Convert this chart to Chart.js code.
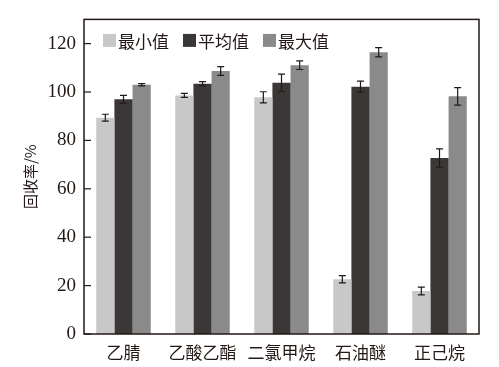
<!DOCTYPE html>
<html>
<head>
<meta charset="utf-8">
<script src="https://cdn.jsdelivr.net/npm/chart.js@4.4.1/dist/chart.umd.min.js"></script>
<style>
html,body{margin:0;padding:0;background:#fff;}
#wrap{width:499px;height:367px;position:relative;}
</style>
</head>
<body>
<div id="wrap"><canvas id="c" width="499" height="367"></canvas></div>
<script>
const categories = ["乙腈", "乙酸乙酯", "二氯甲烷", "石油醚", "正己烷"];
const seriesNames = ["最小值", "平均值", "最大值"];
const minValues = [89.4, 98.6, 97.8, 22.6, 17.8];
const meanValues = [97.0, 103.4, 103.8, 102.2, 72.7];
const maxValues = [103.0, 108.7, 111.1, 116.4, 98.2];
const minErr = [1.4, 0.8, 2.3, 1.5, 1.6];
const meanErr = [1.6, 0.9, 3.6, 2.3, 3.8];
const maxErr = [0.5, 1.8, 1.8, 1.9, 3.6];
const yTicks = [0, 20, 40, 60, 80, 100, 120];

const colors = ["#c8c8c8", "#3b3736", "#8a8a8a"];
const errs = [minErr, meanErr, maxErr];
const serif = "'Liberation Serif', 'Times New Roman', 'Noto Sans CJK SC', serif";
const cjk = "'Noto Sans CJK SC', 'Liberation Serif', serif";

const decor = {
  id: 'decor',
  afterDatasetsDraw(chart) {
    const ctx = chart.ctx;
    const a = chart.chartArea;
    const ys = chart.scales.y;
    ctx.save();
    // error bars
    ctx.strokeStyle = '#231815';
    ctx.lineWidth = 1.2;
    chart.data.datasets.forEach((ds, di) => {
      const meta = chart.getDatasetMeta(di);
      meta.data.forEach((bar, i) => {
        const v = ds.data[i];
        const e = errs[di][i];
        const x = bar.x;
        const yt = ys.getPixelForValue(v + e);
        const yb = ys.getPixelForValue(v - e);
        ctx.beginPath();
        ctx.moveTo(x, yt); ctx.lineTo(x, yb);
        ctx.moveTo(x - 3.5, yt); ctx.lineTo(x + 3.5, yt);
        ctx.moveTo(x - 3.5, yb); ctx.lineTo(x + 3.5, yb);
        ctx.stroke();
      });
    });
    // frame
    ctx.strokeStyle = '#231815';
    ctx.lineWidth = 1.5;
    ctx.strokeRect(a.left, a.top, a.right - a.left, a.bottom - a.top);
    // inward y ticks
    ctx.lineWidth = 1.2;
    yTicks.forEach(t => {
      const y = ys.getPixelForValue(t);
      ctx.beginPath();
      ctx.moveTo(a.left, y); ctx.lineTo(a.left + 7, y);
      ctx.stroke();
    });
    // legend
    ctx.font = "17px " + cjk;
    ctx.textBaseline = 'middle';
    ctx.textAlign = 'left';
    let lx = a.left + 19;
    const ly = a.top + 21;
    chart.data.datasets.forEach((ds, di) => {
      ctx.fillStyle = colors[di];
      ctx.fillRect(lx, ly - 6.5, 13, 13);
      ctx.fillStyle = '#231815';
      ctx.fillText(ds.label, lx + 15, ly + 1);
      const w = ctx.measureText(ds.label).width;
      lx += 15 + w + 14;
    });
    ctx.restore();
  }
};

new Chart(document.getElementById('c'), {
  type: 'bar',
  data: {
    labels: categories,
    datasets: [
      { label: seriesNames[0], data: minValues, backgroundColor: colors[0] },
      { label: seriesNames[1], data: meanValues, backgroundColor: colors[1] },
      { label: seriesNames[2], data: maxValues, backgroundColor: colors[2] }
    ]
  },
  options: {
    responsive: false,
    animation: false,
    devicePixelRatio: 1,
    layout: { padding: { left: 21, right: 20, top: 12, bottom: 0 } },
    datasets: { bar: { categoryPercentage: 0.69, barPercentage: 1.0, borderWidth: 0 } },
    plugins: { legend: { display: false }, tooltip: { enabled: false } },
    scales: {
      x: {
        grid: { display: false, drawTicks: false },
        border: { display: false },
        ticks: { color: '#231815', font: { family: cjk, size: 17 }, padding: 8 },
        afterFit(s) { s.height = 33; }
      },
      y: {
        min: 0, max: 130,
        afterBuildTicks(s) { s.ticks = yTicks.map(v => ({ value: v })); },
        grid: { display: false, drawTicks: false },
        border: { display: false },
        ticks: { color: '#231815', font: { family: serif, size: 19 }, padding: 8 },
        title: { display: true, text: '回收率/%', color: '#231815', font: { family: cjk, size: 15 }, padding: { top: 0, bottom: 0 } },
        afterFit(s) { s.width = 63; }
      }
    }
  },
  plugins: [decor]
});
</script>
</body>
</html>
